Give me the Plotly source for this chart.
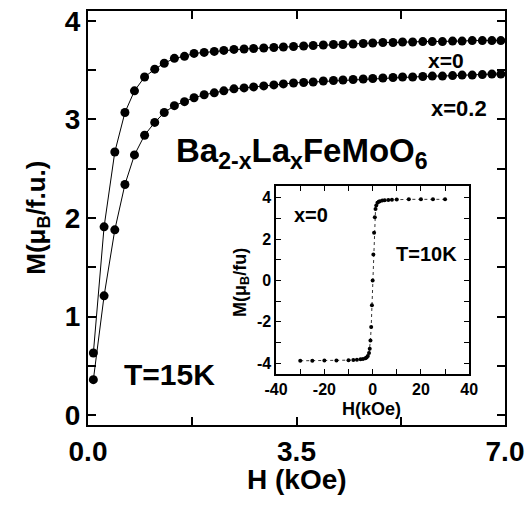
import plotly.graph_objects as go

# Main plot data: M (mu_B / f.u.) vs H (kOe), T = 15 K
H_main = [0.09, 0.27, 0.45, 0.62, 0.78, 0.95, 1.12, 1.28, 1.45, 1.62, 1.78, 1.95,
          2.12, 2.28, 2.45, 2.62, 2.78, 2.95, 3.12, 3.28, 3.45, 3.62, 3.78, 3.95,
          4.12, 4.28, 4.45, 4.62, 4.78, 4.95, 5.12, 5.28, 5.45, 5.62, 5.78, 5.95,
          6.12, 6.28, 6.45, 6.62, 6.78, 6.93]
M_x0 = [0.63, 1.91, 2.67, 3.07, 3.29, 3.43, 3.51, 3.57, 3.62, 3.64, 3.67, 3.68,
        3.69, 3.70, 3.71, 3.715, 3.72, 3.725, 3.73, 3.735, 3.74, 3.745, 3.75, 3.755,
        3.76, 3.76, 3.765, 3.77, 3.775, 3.78, 3.78, 3.785, 3.785, 3.79, 3.79, 3.79,
        3.795, 3.795, 3.80, 3.80, 3.80, 3.80]
M_x02 = [0.36, 1.21, 1.88, 2.34, 2.64, 2.84, 2.97, 3.07, 3.14, 3.18, 3.22, 3.25,
         3.27, 3.29, 3.31, 3.32, 3.33, 3.34, 3.35, 3.36, 3.37, 3.375, 3.38, 3.39,
         3.395, 3.40, 3.405, 3.41, 3.415, 3.42, 3.425, 3.43, 3.43, 3.435, 3.44, 3.44,
         3.445, 3.45, 3.45, 3.455, 3.46, 3.46]

# Inset data: x=0, T=10 K
H_inset = [-30, -25, -20, -15, -10, -8, -6.5, -5, -4, -3, -2.5, -2, -1.5, -1.2, -0.9,
           -0.6, -0.3, 0, 0.3, 0.6, 0.9, 1.2, 1.5, 2, 2.5, 3, 4, 5, 6.5, 8, 10, 15,
           20, 25, 30]
M_inset = [-3.88, -3.88, -3.87, -3.86, -3.85, -3.84, -3.83, -3.81, -3.79, -3.76, -3.72,
           -3.65, -3.5, -3.3, -2.9, -2.25, -1.2, 0.0, 1.25, 2.3, 3.05, 3.45, 3.62, 3.75,
           3.8, 3.83, 3.86, 3.88, 3.89, 3.9, 3.91, 3.92, 3.92, 3.92, 3.92]

main_xticks = [0, 1.75, 3.5, 5.25, 7.0]
main_xticktext = ["0.0", "", "3.5", "", "7.0"]
main_yticks = [0, 0.5, 1, 1.5, 2, 2.5, 3, 3.5, 4]
main_yticktext = ["0", "", "1", "", "2", "", "3", "", "4"]
inset_xticks = [-40, -30, -20, -10, 0, 10, 20, 30, 40]
inset_xticktext = ["-40", "", "-20", "", "0", "", "20", "", "40"]
inset_yticks = [-4, -3, -2, -1, 0, 1, 2, 3, 4]
inset_yticktext = ["-4", "", "-2", "", "0", "", "2", "", "4"]

FONT = "Liberation Sans"
W, H = 530, 507
L, R, T, B = 88, 23, 6, 82
PW, PH = W - L - R, H - T - B


def px(x):
    return (x - L) / PW


def py(y):
    return (H - B - y) / PH


fig = go.Figure()
fig.add_trace(go.Scatter(x=H_main, y=M_x0, mode="lines+markers",
                         line=dict(color="black", width=1),
                         marker=dict(color="black", size=9), xaxis="x", yaxis="y"))
fig.add_trace(go.Scatter(x=H_main, y=M_x02, mode="lines+markers",
                         line=dict(color="black", width=1),
                         marker=dict(color="black", size=9), xaxis="x", yaxis="y"))
fig.add_trace(go.Scatter(x=H_inset, y=M_inset, mode="lines+markers",
                         line=dict(color="black", width=0.8, dash="dot"),
                         marker=dict(color="black", size=4), xaxis="x2", yaxis="y2"))

axis_common = dict(showgrid=False, zeroline=False, showline=True, linecolor="black",
                   mirror="allticks", ticks="inside", tickcolor="black",
                   tickmode="array")

fig.update_layout(
    width=W, height=H, margin=dict(l=L, r=R, t=T, b=B),
    paper_bgcolor="white", plot_bgcolor="white", showlegend=False,
    font=dict(family=FONT, color="black"),
    xaxis=dict(**axis_common, range=[0, 7.0], tickvals=main_xticks, ticktext=main_xticktext,
               linewidth=2, ticklen=8, tickwidth=1.5,
               tickfont=dict(size=28, family=FONT, weight="bold"), domain=[0, 1]),
    yaxis=dict(**axis_common, range=[-0.1, 4.1], tickvals=main_yticks, ticktext=main_yticktext,
               linewidth=2, ticklen=8, tickwidth=1.5,
               tickfont=dict(size=28, family=FONT, weight="bold"), domain=[0, 1]),
    xaxis2=dict(**axis_common, range=[-40, 40], tickvals=inset_xticks, ticktext=inset_xticktext,
                linewidth=1.5, ticklen=5, tickwidth=1, anchor="y2",
                tickfont=dict(size=16, family=FONT, weight="bold"),
                domain=[px(277), px(471)]),
    yaxis2=dict(**axis_common, range=[-4.5, 4.57], tickvals=inset_yticks, ticktext=inset_yticktext,
                linewidth=1.5, ticklen=5, tickwidth=1, anchor="x2",
                tickfont=dict(size=16, family=FONT, weight="bold"),
                domain=[py(373), py(183)]),
)

def ann(text, x, y, size, xanchor="center", yanchor="middle", angle=0):
    fig.add_annotation(text=text, x=px(x), y=py(y), xref="paper", yref="paper",
                       showarrow=False, xanchor=xanchor, yanchor=yanchor, textangle=angle,
                       font=dict(size=size, family=FONT, color="black", weight="bold"))

ann("H (kOe)", 298, 480, 28)
ann("M(μ<sub>B</sub>/f.u.)", 37, 215, 26, angle=-90)
ann("Ba<sub>2-x</sub>La<sub>x</sub>FeMoO<sub>6</sub>", 174, 150, 33, xanchor="left")
ann("x=0", 448, 56, 21)
ann("x=0.2", 461, 105, 22)
ann("T=15K", 170, 374, 30)
ann("x=0", 312, 212, 20)
ann("T=10K", 428, 252, 20)
ann("H(kOe)", 373, 409, 18)
ann("M(μ<sub>B</sub>/fu)", 242, 281, 18, angle=-90)

fig.write_html("out.html", config={"displayModeBar": False},
               post_script="document.body.style.margin='0';")
